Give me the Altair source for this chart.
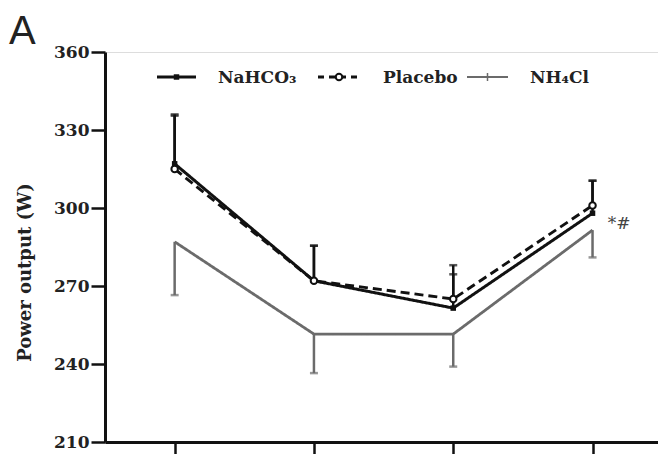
import altair as alt
import pandas as pd

# Exercise stages (x positions) and group names
stages = [1, 2, 3, 4]
series_names = ["NaHCO₃", "Placebo", "NH₄Cl"]

# Mean power output (W) per stage and the end of each SD bar
nahco3_mean = [317, 272, 261.5, 298]
nahco3_err = [336, 285.5, 274.5, 310.5]
placebo_mean = [315, 272, 265, 301]
placebo_err = [335.5, 285.5, 278, 310.5]
nh4cl_mean = [287, 251.5, 251.5, 291.5]
nh4cl_err = [266.5, 236.5, 239, 281]

y_ticks = [210, 240, 270, 300, 330, 360]
y_domain = [210, 360]
x_domain = [0.5, 4.47]

means = [nahco3_mean, placebo_mean, nh4cl_mean]
errs = [nahco3_err, placebo_err, nh4cl_err]

rows = []
for name, m, e in zip(series_names, means, errs):
    for s, mv, ev in zip(stages, m, e):
        rows.append({"group": name, "stage": s, "mean": mv, "err": ev})
df = pd.DataFrame(rows)

INK = "#111111"
GREY = "#6b6b6b"
SERIF = "DejaVu Serif"

color_scale = alt.Scale(domain=series_names, range=[INK, INK, GREY])
dash_scale = alt.Scale(domain=series_names, range=[[1, 0], [9, 5], [1, 0]])
width_scale = alt.Scale(domain=series_names, range=[3, 2.8, 2.2])

x_enc = alt.X(
    "stage:Q",
    scale=alt.Scale(domain=x_domain, nice=False, zero=False),
    axis=alt.Axis(values=stages, labels=False, title=None, tickSize=12,
                  tickWidth=2.5, tickColor=INK, domainWidth=3,
                  domainColor=INK, grid=False),
)
y_axis = alt.Axis(
    values=y_ticks, title="Power output (W)", grid=False,
    titleFont=SERIF, titleFontWeight="bold", titleFontSize=18,
    titleColor="#222222", titleX=-80, titleY=220, titleAlign="center",
    titleBaseline="middle", labelFont=SERIF, labelFontWeight="bold",
    labelFontSize=17, labelColor="#222222", labelPadding=2, tickSize=14,
    tickWidth=2.5, tickColor=INK, domainWidth=3, domainColor=INK,
)
y_scale = alt.Scale(domain=y_domain, nice=False, zero=False)

base = alt.Chart(df).encode(
    x=x_enc,
    color=alt.Color("group:N", scale=color_scale, legend=None),
)

# SD bars (upwards for NaHCO3 / placebo, downwards for NH4Cl)
bars = base.mark_rule(strokeWidth=2.5).encode(
    y=alt.Y("mean:Q", scale=y_scale, axis=y_axis),
    y2="err:Q",
)
caps = base.mark_tick(orient="horizontal", size=8, thickness=2.5).encode(
    y=alt.Y("err:Q", scale=y_scale, axis=y_axis),
)

lines = base.mark_line().encode(
    y=alt.Y("mean:Q", scale=y_scale, axis=y_axis),
    strokeDash=alt.StrokeDash("group:N", scale=dash_scale, legend=None),
    strokeWidth=alt.StrokeWidth("group:N", scale=width_scale, legend=None),
    order="stage:Q",
)

squares = alt.Chart(df).transform_filter(
    alt.datum.group == series_names[0]
).mark_point(shape="square", filled=True, size=30, color=INK, opacity=1).encode(
    x=x_enc, y=alt.Y("mean:Q", scale=y_scale, axis=y_axis)
)
circles = alt.Chart(df).transform_filter(
    alt.datum.group == series_names[1]
).mark_point(shape="circle", filled=True, size=42, fill="white",
             stroke=INK, strokeWidth=2, opacity=1).encode(
    x=x_enc, y=alt.Y("mean:Q", scale=y_scale, axis=y_axis)
)

# Significance marker beside the last stage
sig = alt.Chart(pd.DataFrame({"stage": [4.11], "v": [294], "t": ["*#"]})).mark_text(
    align="left", baseline="middle", font=SERIF, fontSize=17, color="#444444"
).encode(x=x_enc, y=alt.Y("v:Q", scale=y_scale, axis=y_axis), text="t:N")

# Legend drawn along the top of the plot
one = pd.DataFrame({"k": [0]})
LEG_Y = 25
legend_layers = []
legend_specs = [
    # (line start, line end, label x, colour, dash, width)
    (52, 91, 113, INK, [1, 0], 3),
    (213, 255, 278, INK, [6, 5], 2.8),
    (362, 403, 425, GREY, [1, 0], 2.2),
]
for name, (x0, x1, lx, col, dash, sw) in zip(series_names, legend_specs):
    legend_layers.append(
        alt.Chart(one).mark_rule(color=col, strokeDash=dash, strokeWidth=sw).encode(
            x=alt.value(x0), x2=alt.value(x1), y=alt.value(LEG_Y)
        )
    )
    legend_layers.append(
        alt.Chart(one).mark_text(
            align="left", baseline="middle", font=SERIF, fontWeight="bold",
            fontSize=17, color="#222222"
        ).encode(x=alt.value(lx), y=alt.value(LEG_Y + 1), text=alt.value(name))
    )
legend_layers.append(
    alt.Chart(one).mark_point(shape="square", filled=True, size=30, color=INK,
                              opacity=1).encode(x=alt.value(71.5), y=alt.value(LEG_Y))
)
legend_layers.append(
    alt.Chart(one).mark_point(shape="circle", filled=True, size=42, fill="white",
                              stroke=INK, strokeWidth=2, opacity=1).encode(
        x=alt.value(234), y=alt.value(LEG_Y))
)
legend_layers.append(
    alt.Chart(one).mark_rule(color=GREY, strokeWidth=1.5).encode(
        x=alt.value(382.5), y=alt.value(LEG_Y - 4), y2=alt.value(LEG_Y + 4))
)

panel = alt.Chart(one).mark_text(
    align="left", baseline="alphabetic", font="Liberation Sans", fontSize=40,
    color="#222222"
).encode(x=alt.value(-96), y=alt.value(-8), text=alt.value("A"))

chart = alt.layer(
    bars, caps, lines, squares, circles, sig, *legend_layers, panel
).properties(
    width=553, height=390,
    autosize=alt.AutoSizeParams(type="none"),
    padding={"left": 105, "top": 52, "right": 0, "bottom": 12},
).configure_view(stroke=None).configure(background="white")

chart.save("out.html", embed_options={"renderer": "svg", "actions": False})
